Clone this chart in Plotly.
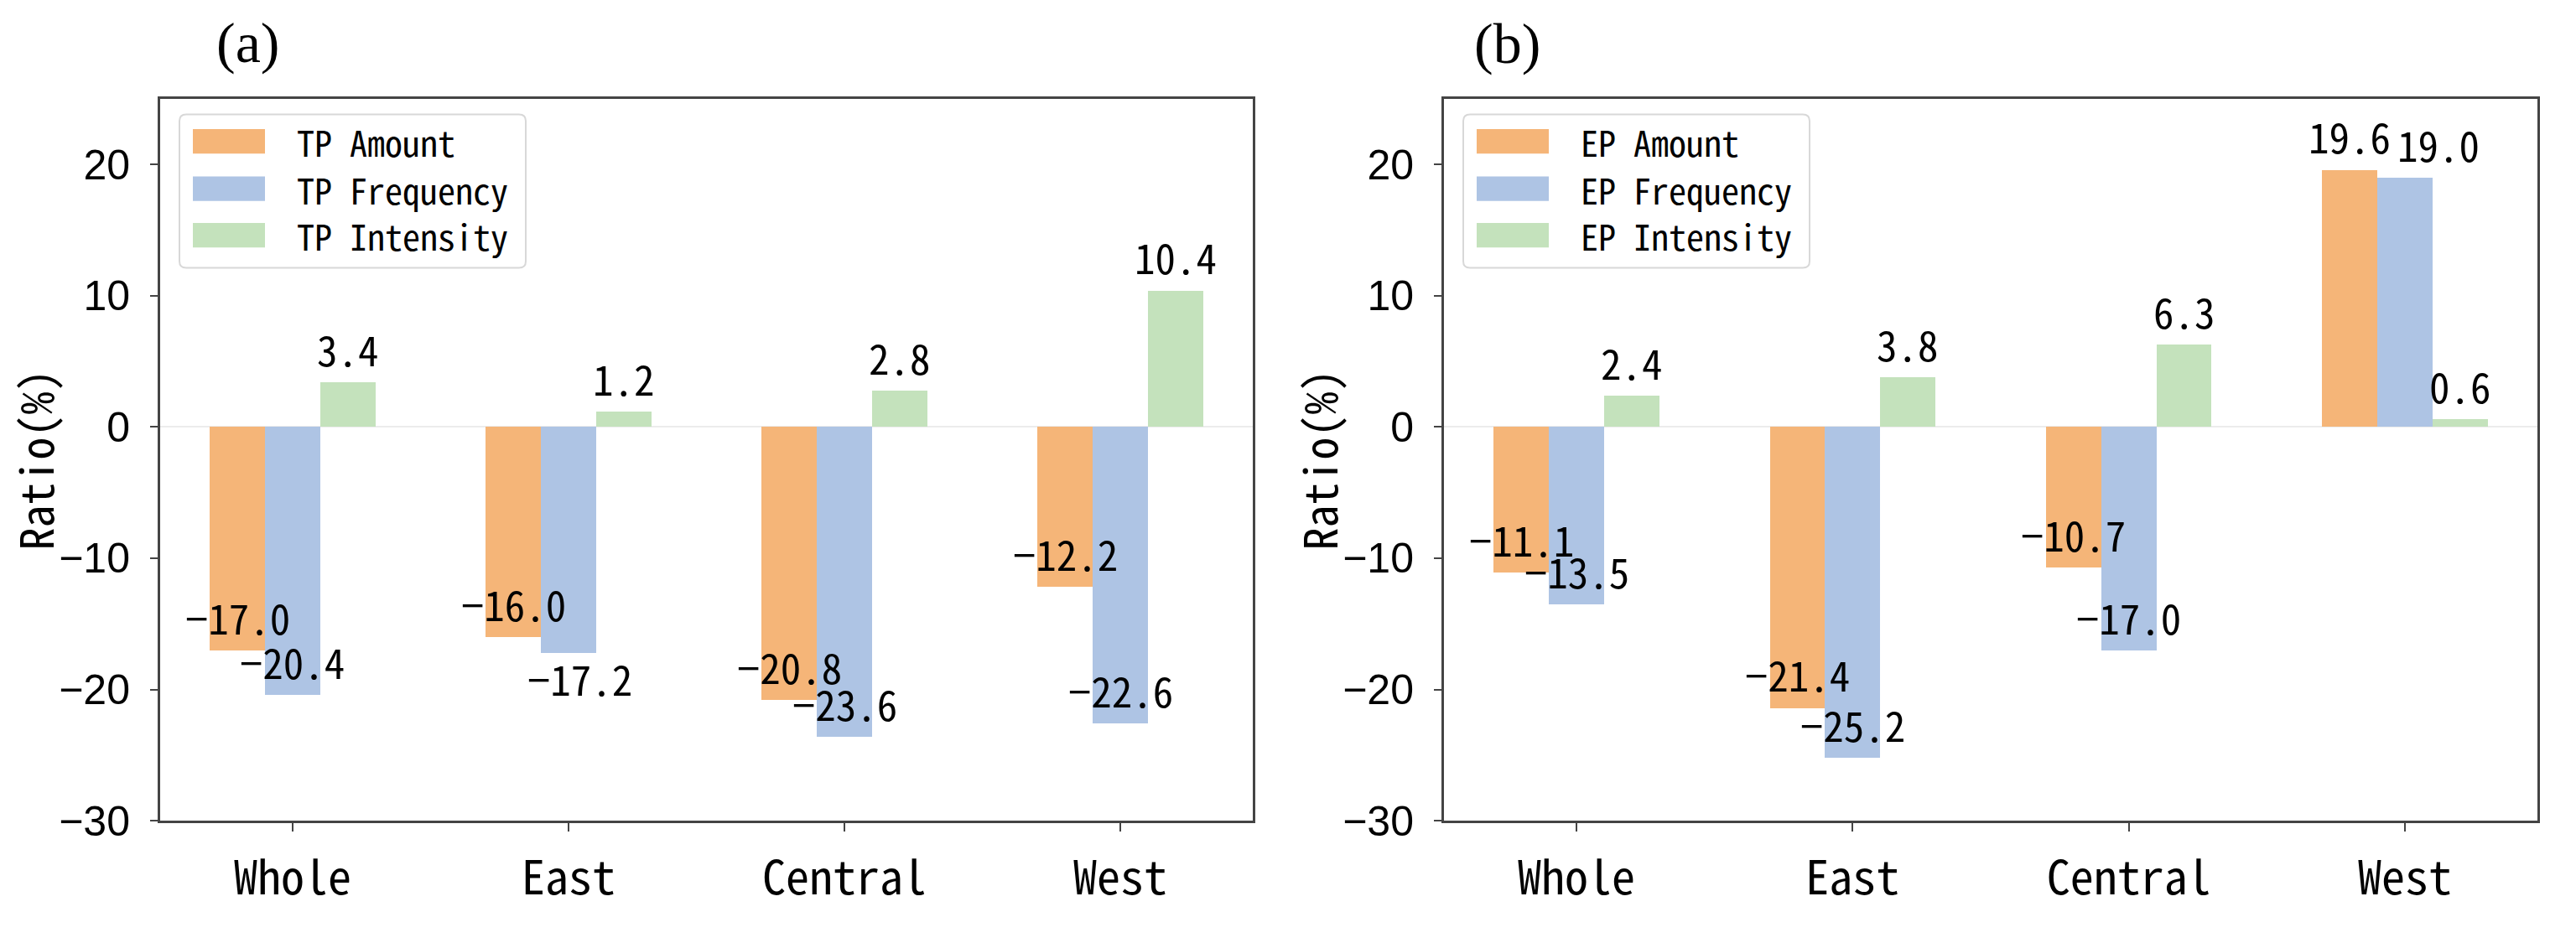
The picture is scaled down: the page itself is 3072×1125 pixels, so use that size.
import plotly.graph_objects as go

# ---------------- data ----------------
categories = ["Whole", "East", "Central", "West"]
tp_amount = [-17.0, -16.0, -20.8, -12.2]
tp_frequency = [-20.4, -17.2, -23.6, -22.6]
tp_intensity = [3.4, 1.2, 2.8, 10.4]
ep_amount = [-11.1, -21.4, -10.7, 19.6]
ep_frequency = [-13.5, -25.2, -17.0, 19.0]
ep_intensity = [2.4, 3.8, 6.3, 0.6]
tp_names = ["TP Amount", "TP Frequency", "TP Intensity"]
ep_names = ["EP Amount", "EP Frequency", "EP Intensity"]
panel_titles = ["(a)", "(b)"]
y_ticks = [-30, -20, -10, 0, 10, 20]
y_title = "Ratio(%)"

# ---------------- style ----------------
W, H = 3072, 1125
colors = ["#F5B578", "#AEC4E4", "#C4E2BC"]
offsets = [-0.2, 0.0, 0.2]
bar_w = 0.2
CJK = "Noto Sans Mono CJK SC, Noto Sans CJK SC, DejaVu Sans Mono, monospace"
SANS = "Liberation Sans, Arial, sans-serif"
SERIF = "Liberation Serif, Times New Roman, serif"
AX = "#444444"

panel_left = [191, 1722]
panel_right = [1494, 3026]
y_top, y_bot = 121, 1005

# label placement tweaks (panel, series, category) -> annotation overrides
label_nudge = {
    (0, 1, 1): dict(yanchor="top", yshift=8, xshift=14),
    (1, 1, 3): dict(xshift=40),
}

def px(x):
    return x / W

def py(y):
    return 1 - y / H

def fmt(v):
    return f"{v:.1f}".replace("-", "\u2212")

fig = go.Figure()

panels = [
    ([tp_amount, tp_frequency, tp_intensity], tp_names),
    ([ep_amount, ep_frequency, ep_intensity], ep_names),
]

annotations = []
shapes = []

for p, (series, names) in enumerate(panels):
    xa = "x" if p == 0 else "x2"
    ya = "y" if p == 0 else "y2"
    for s, vals in enumerate(series):
        xs = [i + offsets[s] for i in range(len(categories))]
        fig.add_trace(go.Bar(
            x=xs, y=vals, width=bar_w, name=names[s],
            marker=dict(color=colors[s], line=dict(width=0)),
            xaxis=xa, yaxis=ya, showlegend=False,
        ))
        for i, (x, v) in enumerate(zip(xs, vals)):
            ann = dict(
                x=x, y=v, xref=xa, yref=ya, text=fmt(v),
                showarrow=False, xanchor="center", yanchor="bottom", yshift=3,
                font=dict(family=CJK, size=49, color="black"),
            )
            ann.update(label_nudge.get((p, s, i), {}))
            annotations.append(ann)

    L = panel_left[p]
    # legend box (rounded)
    x0, x1, y0, y1, r = L + 23, L + 436, 140, 328, 8
    pts = (f"M {px(x0+r)},{py(y0)} L {px(x1-r)},{py(y0)} Q {px(x1)},{py(y0)} {px(x1)},{py(y0+r)} "
           f"L {px(x1)},{py(y1-r)} Q {px(x1)},{py(y1)} {px(x1-r)},{py(y1)} "
           f"L {px(x0+r)},{py(y1)} Q {px(x0)},{py(y1)} {px(x0)},{py(y1-r)} "
           f"L {px(x0)},{py(y0+r)} Q {px(x0)},{py(y0)} {px(x0+r)},{py(y0)} Z")
    shapes.append(dict(type="path", path=pts, xref="paper", yref="paper",
                       line=dict(color="#d8d8d8", width=2), fillcolor="rgba(255,255,255,0.85)",
                       layer="above"))
    for s, yc in enumerate([173, 231, 288]):
        shapes.append(dict(type="rect", xref="paper", yref="paper",
                           x0=px(L + 39), x1=px(L + 125), y0=py(yc + 15), y1=py(yc - 15),
                           fillcolor=colors[s], line=dict(width=0), layer="above"))
        annotations.append(dict(
            x=px(L + 161), y=py(yc), xref="paper", yref="paper", text=names[s],
            showarrow=False, xanchor="left", yanchor="middle",
            font=dict(family=CJK, size=42, color="black"),
        ))

    # y title
    annotations.append(dict(
        x=px(L - 151), y=py((y_top + y_bot) / 2), xref="paper", yref="paper",
        text=y_title, textangle=-90, showarrow=False, xanchor="center", yanchor="middle",
        font=dict(family=CJK, size=54, color="black"),
    ))

# panel titles
for t, (cx, cy) in zip(panel_titles, [(295, 52), (1797, 53)]):
    annotations.append(dict(
        x=px(cx), y=py(cy), xref="paper", yref="paper", text=t, showarrow=False,
        xanchor="center", yanchor="middle",
        font=dict(family=SERIF, size=68, color="black"),
    ))

def xaxis_cfg(p):
    return dict(
        domain=[px(panel_left[p]), px(panel_right[p])],
        range=[-0.48, 3.48],
        tickvals=list(range(len(categories))), ticktext=categories,
        ticks="outside", ticklen=10, tickwidth=2, tickcolor=AX,
        showline=True, linecolor=AX, linewidth=3, mirror=True,
        showgrid=False, zeroline=False,
        tickfont=dict(family=CJK, size=56, color="black"),
        ticklabelstandoff=8,
        anchor="y" if p == 0 else "y2",
    )

def yaxis_cfg(p):
    return dict(
        domain=[py(y_bot), py(y_top)],
        range=[-30, 25],
        tickvals=y_ticks,
        ticks="outside", ticklen=9, tickwidth=2, tickcolor=AX,
        showline=True, linecolor=AX, linewidth=3, mirror=True,
        showgrid=False, zeroline=True, zerolinecolor="#ececec", zerolinewidth=2,
        tickfont=dict(family=SANS, size=50, color="black"),
        ticklabelstandoff=14,
        anchor="x" if p == 0 else "x2",
    )

fig.update_layout(
    width=W, height=H, autosize=False,
    margin=dict(l=0, r=0, t=0, b=0),
    paper_bgcolor="white", plot_bgcolor="white",
    barmode="overlay", bargap=0,
    xaxis=xaxis_cfg(0), xaxis2=xaxis_cfg(1),
    yaxis=yaxis_cfg(0), yaxis2=yaxis_cfg(1),
    annotations=annotations, shapes=shapes,
    showlegend=False,
)

fig.write_html("out.html")
